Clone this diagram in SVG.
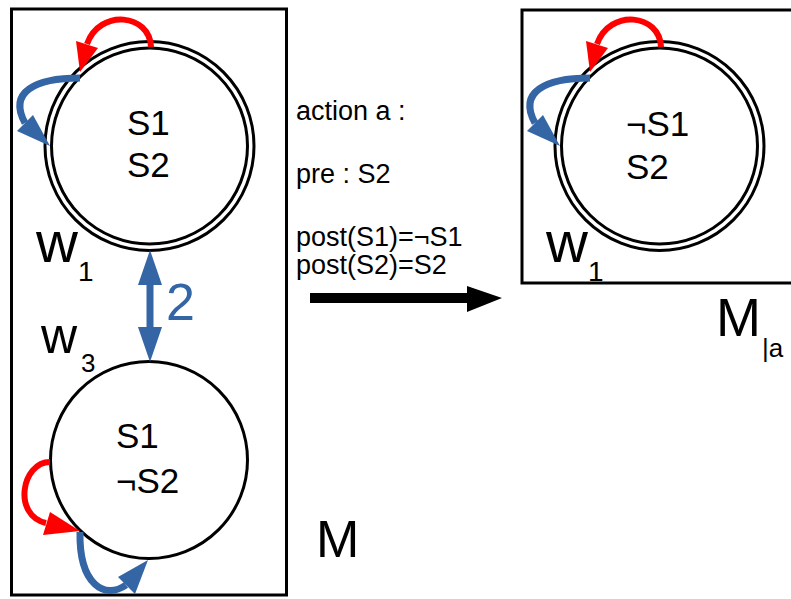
<svg xmlns="http://www.w3.org/2000/svg" width="791" height="599" viewBox="0 0 791 599">
<style>
text{font-family:"Liberation Sans",Arial,sans-serif;fill:#000}
.frame{fill:none;stroke:#000;stroke-width:3}
.ring{fill:none;stroke:#000;stroke-width:3}
.state{fill:#fff;stroke:#000;stroke-width:3}
.red{fill:none;stroke:#ff0000;stroke-width:6}
.blue{fill:none;stroke:#3465a4;stroke-width:7}
.redh{fill:#ff0000}
.blueh{fill:#3465a4}
.big{font-size:35px}
.act{font-size:27px}
</style>
<rect class="frame" x="11.5" y="9" width="275" height="586"/>
<rect class="frame" x="522" y="10" width="300" height="273"/>

<g id="w1">
<circle cx="149.5" cy="146" r="104.5" fill="#fff" class="ring"/>
<circle cx="149.5" cy="146" r="98" class="ring"/>
<text class="big" x="127" y="135">S1</text>
<text class="big" x="127" y="177">S2</text>
<text x="36" y="262" font-size="58">w</text>
<text x="78" y="281" font-size="28">1</text>
</g>

<g id="w3">
<circle class="state" cx="149" cy="460" r="98.5"/>
<text class="big" x="116" y="448">S1</text>
<text class="big" x="116" y="493">¬S2</text>
<text x="41" y="353" font-size="50">w</text>
<text x="81" y="372" font-size="26">3</text>
</g>

<g id="w1a">
<circle cx="659.5" cy="146" r="104.5" fill="#fff" class="ring"/>
<circle cx="659.5" cy="146" r="98" class="ring"/>
<text class="big" x="626" y="136">¬S1</text>
<text class="big" x="626" y="179">S2</text>
<text x="546" y="262" font-size="58">w</text>
<text x="588" y="281" font-size="28">1</text>
</g>

<g id="labels">
<text x="316" y="557" font-size="52">M</text>
<text x="716" y="336" font-size="54">M</text>
<text x="762" y="357" font-size="26">|a</text>
<text x="166" y="320" font-size="52" style="fill:#3465a4">2</text>
<text class="act" x="296" y="120">action a :</text>
<text class="act" x="296" y="183">pre : S2</text>
<text class="act" x="296" y="246">post(S1)=¬S1</text>
<text class="act" x="296" y="274">post(S2)=S2</text>
</g>

<g id="connectors">
<!-- w1 loops -->
<path class="red" d="M151,47 C150,14 100,8 87,44"/>
<polygon class="redh" points="76,41 98,48 80,72"/>
<path class="blue" d="M80,78 C35,78 8,92 25,123"/>
<polygon class="blueh" points="17,131 33,115 50,146"/>
<!-- w1a loops -->
<path class="red" d="M661,47 C660,14 610,8 597,44"/>
<polygon class="redh" points="586,41 608,48 590,72"/>
<path class="blue" d="M590,78 C545,78 518,92 535,123"/>
<polygon class="blueh" points="527,131 543,115 560,146"/>
<!-- w3 loops -->
<path class="red" d="M50,462 C22,462 12,515 46,523"/>
<polygon class="redh" points="43,535 50,512 80,531"/>
<path class="blue" d="M80,532 C79,585 105,600 126,585"/>
<polygon class="blueh" points="118,577 135,594 148,560"/>
<!-- w1 <-> w3 -->
<line x1="150" y1="283" x2="150" y2="329" stroke="#3465a4" stroke-width="7"/>
<polygon class="blueh" points="150,250 138,285 162,285"/>
<polygon class="blueh" points="150,362 138,327 162,327"/>
<!-- action arrow -->
<line x1="310" y1="298" x2="469" y2="298" stroke="#000" stroke-width="10"/>
<polygon fill="#000" points="467,286 502,298 467,312"/>
</g>
</svg>
